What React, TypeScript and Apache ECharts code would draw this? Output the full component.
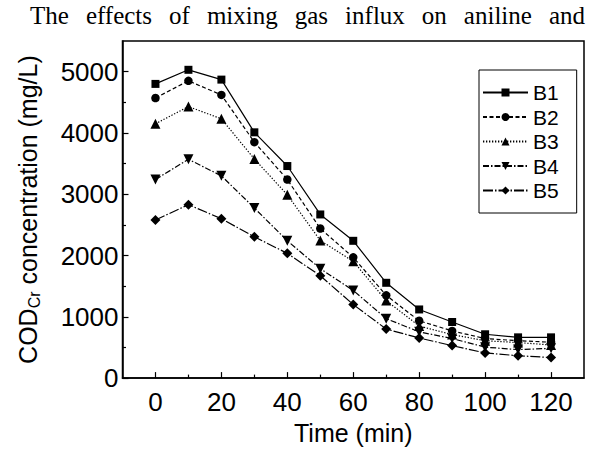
import React, { useEffect, useRef } from "react";
import * as echarts from "echarts";

// Sampling times (min)
const times = [0, 10, 20, 30, 40, 50, 60, 70, 80, 90, 100, 110, 120];

// COD_Cr concentration (mg/L) for each run
const seriesNames = ["B1", "B2", "B3", "B4", "B5"];
const b1 = [4800, 5030, 4870, 4010, 3460, 2670, 2240, 1555, 1120, 915, 715, 665, 665];
const b2 = [4570, 4850, 4620, 3850, 3240, 2440, 1970, 1350, 935, 770, 645, 610, 585];
const b3 = [4150, 4430, 4230, 3575, 2990, 2245, 1905, 1265, 850, 710, 610, 580, 540];
const b4 = [3240, 3570, 3300, 2775, 2240, 1785, 1430, 970, 755, 645, 505, 465, 485];
const b5 = [2580, 2830, 2600, 2305, 2035, 1670, 1200, 800, 655, 530, 410, 365, 335];
const seriesValues = [b1, b2, b3, b4, b5];

// Axis ticks
const xMajorTicks = [0, 20, 40, 60, 80, 100, 120];
const xMinorTicks = [10, 30, 50, 70, 90, 110];
const yMajorTicks = [0, 1000, 2000, 3000, 4000, 5000];
const yMinorTicks = [500, 1500, 2500, 3500, 4500];

const captionWords = ["The", "effects", "of", "mixing", "gas", "influx", "on", "aniline", "and"];

const SANS = "'Liberation Sans', Arial, sans-serif";
const SERIF = "'Liberation Serif', 'Times New Roman', serif";

const symbols = ["rect", "circle", "triangle", "path://M0,0 L10,0 L5,10 Z", "diamond"];
const symbolSizes = [8, 8.5, 10, 10, 10];
const dashes: (number[] | "solid")[] = [
  "solid",
  [4, 2.5],
  [1.3, 1.7],
  [6, 2, 1.5, 2],
  [10, 2, 1.5, 2],
];

// Justified caption line across the top of the figure
function captionElements(left: number, right: number, y: number, size: number) {
  const ctx = document.createElement("canvas").getContext("2d");
  const font = `${size}px ${SERIF}`;
  let widths = captionWords.map((w) => w.length * size * 0.45);
  if (ctx) {
    ctx.font = font;
    widths = captionWords.map((w) => ctx.measureText(w).width);
  }
  const total = widths.reduce((a, b) => a + b, 0);
  const gap = (right - left - total) / (captionWords.length - 1);
  let x = left;
  return captionWords.map((w, i) => {
    const el = {
      type: "text",
      x,
      y,
      style: {
        text: w,
        fontSize: size,
        fontFamily: SERIF,
        fill: "#000",
        verticalAlign: "middle",
      },
    };
    x += widths[i] + gap;
    return el;
  });
}

export default function App() {
  const ref = useRef<HTMLDivElement>(null);

  useEffect(() => {
    if (!ref.current) return;
    const chart = echarts.init(ref.current, null, { renderer: "svg" });

    const axisText = { fontSize: 26, fontFamily: SANS, color: "#000" };
    const plain = (v: number) => String(v);

    const series = seriesNames.map((name, i) => ({
      name,
      type: "line",
      xAxisIndex: 0,
      yAxisIndex: 0,
      data: times.map((t, j) => [t, seriesValues[i][j]]),
      symbol: symbols[i],
      symbolSize: symbolSizes[i],
      showAllSymbol: true,
      itemStyle: { color: "#000" },
      lineStyle: { color: "#000", width: 1.2, type: dashes[i] },
      z: 10 - i,
    }));

    chart.setOption({
      animation: false,
      backgroundColor: "#fff",
      graphic: captionElements(30, 585, 15, 25),
      grid: {
        left: 122.5,
        right: 30,
        top: 41,
        bottom: 67,
        show: true,
        borderColor: "#000",
        borderWidth: 1.5,
        backgroundColor: "transparent",
      },
      legend: {
        orient: "vertical",
        left: 479,
        top: 70,
        padding: [12, 18, 12, 3],
        itemGap: 3.5,
        itemWidth: 45,
        itemHeight: 10,
        itemTextGap: 8,
        borderColor: "#000",
        borderWidth: 1,
        backgroundColor: "#fff",
        textStyle: { fontSize: 21, fontFamily: SANS, color: "#000" },
        data: seriesNames,
      },
      xAxis: [
        {
          type: "value",
          min: -10,
          max: 130,
          interval: 10,
          name: "Time (min)",
          nameLocation: "middle",
          nameGap: 34,
          nameTextStyle: { ...axisText, fontSize: 25 },
          axisLine: { show: true, onZero: false, lineStyle: { color: "#000", width: 1.5 } },
          axisTick: {
            show: true,
            inside: true,
            length: 6,
            customValues: xMajorTicks,
            lineStyle: { color: "#000", width: 1.2 },
          },
          axisLabel: { ...axisText, margin: 11, formatter: plain, customValues: xMajorTicks },
          splitLine: { show: false },
        },
        {
          type: "value",
          min: -10,
          max: 130,
          interval: 10,
          position: "bottom",
          axisLine: { show: false, onZero: false },
          axisTick: {
            show: true,
            inside: true,
            length: 3.5,
            customValues: xMinorTicks,
            lineStyle: { color: "#000", width: 1.2 },
          },
          axisLabel: { show: false },
          splitLine: { show: false },
        },
      ],
      yAxis: [
        {
          type: "value",
          min: 0,
          max: 5500,
          interval: 500,
          name: "{m|COD}{s|Cr}{m| concentration (mg/L)}",
          nameLocation: "middle",
          nameGap: 80,
          nameTextStyle: {
            ...axisText,
            rich: {
              m: { fontSize: 25, fontFamily: SANS, color: "#000", lineHeight: 30 },
              s: { fontSize: 16, fontFamily: SANS, color: "#000", verticalAlign: "bottom" },
            },
          },
          axisLine: { show: true, onZero: false, lineStyle: { color: "#000", width: 1.5 } },
          axisTick: {
            show: true,
            inside: true,
            length: 6,
            customValues: yMajorTicks,
            lineStyle: { color: "#000", width: 1.2 },
          },
          axisLabel: { ...axisText, margin: 4, formatter: plain, customValues: yMajorTicks },
          splitLine: { show: false },
        },
        {
          type: "value",
          min: 0,
          max: 5500,
          interval: 500,
          position: "left",
          axisLine: { show: false, onZero: false },
          axisTick: {
            show: true,
            inside: true,
            length: 3.5,
            customValues: yMinorTicks,
            lineStyle: { color: "#000", width: 1.2 },
          },
          axisLabel: { show: false },
          splitLine: { show: false },
        },
      ],
      series,
    });

    return () => chart.dispose();
  }, []);

  return (
    <div
      ref={ref}
      style={{ position: "fixed", left: 0, top: 0, width: 614, height: 450 }}
    />
  );
}
